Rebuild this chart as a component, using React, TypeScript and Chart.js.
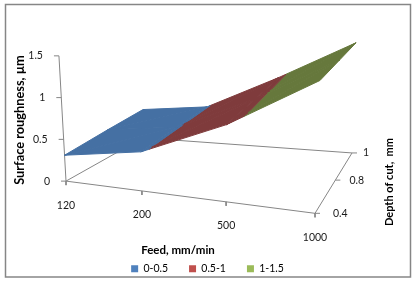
import React, { useEffect, useRef } from "react";
import { Chart, registerables } from "chart.js";

Chart.register(...registerables);

const feedLabels = ["120", "200", "500", "1000"];
const depthLabels = ["0.4", "0.8", "1"];
const zTicks = [0, 0.5, 1, 1.5];
const bandNames = ["0-0.5", "0.5-1", "1-1.5"];
const bandLimits = [[0, 0.5], [0.5, 1], [1, 1.5]];
const bandColors = ["#4570a3", "#7f3b3c", "#66783c"];
const legendColors = ["#4f81bd", "#c0504d", "#9bbb59"];
const roughness04 = [0.31, 0.46, 0.89, 1.5];
const roughness08 = [0.35, 0.47, 0.92, 1.5];
const roughness10 = [0.38, 0.48, 0.95, 1.5];
const rows = [roughness04, roughness08, roughness10];

const FONT = "Lato";
const PLOT_HEIGHT = 241;

// Box corners on the chart's scales, and the spacing of the categories along each floor edge
const P00 = [66, 180], P10 = [315, 212], P11 = [352, 152], P01 = [143, 137];
const Z00 = [-4.7, -83], Z10 = [3.3, -88], Z11 = [2.7, -73], Z01 = [0, -74];
const feedSpacing = [0, 0.305, 0.643, 1];
const depthSpacing = [0, 0.55, 1];

function along(stops: number[], t: number) {
  const n = Math.min(Math.floor(t), stops.length - 2);
  return stops[n] + (stops[n + 1] - stops[n]) * (t - n);
}
function project(i: number, j: number, z: number) {
  const u = along(feedSpacing, i);
  const v = along(depthSpacing, j);
  const mix = (a: number[], b: number[], c: number[], d: number[], k: number) =>
    (1 - u) * (1 - v) * a[k] + u * (1 - v) * b[k] + u * v * c[k] + (1 - u) * v * d[k];
  return {
    x: mix(P00, P10, P11, P01, 0) + mix(Z00, Z10, Z11, Z01, 0) * z,
    y: mix(P00, P10, P11, P01, 1) + mix(Z00, Z10, Z11, Z01, 1) * z,
  };
}

type V = [number, number, number];
function clip(poly: V[], z: number, keepAbove: boolean): V[] {
  const out: V[] = [];
  const inside = (p: V) => (keepAbove ? p[2] >= z : p[2] <= z);
  poly.forEach((p, n) => {
    const q = poly[(n + 1) % poly.length];
    if (inside(p)) out.push(p);
    if (inside(p) !== inside(q)) {
      const t = (z - p[2]) / (q[2] - p[2]);
      out.push([p[0] + (q[0] - p[0]) * t, p[1] + (q[1] - p[1]) * t, z]);
    }
  });
  return out;
}

function surfaceDatasets() {
  const sets: any[] = [];
  for (let j = 0; j < rows.length - 1; j++) {
    for (let i = 0; i < feedLabels.length - 1; i++) {
      const a: V = [i, j, rows[j][i]], b: V = [i + 1, j, rows[j][i + 1]];
      const c: V = [i + 1, j + 1, rows[j + 1][i + 1]], d: V = [i, j + 1, rows[j + 1][i]];
      [[a, b, c], [a, c, d]].forEach((tri) => {
        bandLimits.forEach(([lo, hi], k) => {
          const poly = clip(clip(tri as V[], lo, true), hi, false);
          if (poly.length < 3) return;
          const pts = poly.map((p) => project(p[0], p[1], p[2]));
          pts.push(pts[0]);
          sets.push({
            label: bandNames[k], data: pts, showLine: true, fill: "shape", tension: 0,
            pointRadius: 0, borderWidth: 1, borderColor: bandColors[k],
            backgroundColor: bandColors[k], borderJoinStyle: "round",
          });
        });
      });
    }
  }
  return sets;
}

function axisDatasets() {
  const gap = { x: NaN, y: NaN };
  const nf = feedLabels.length - 1, nd = depthLabels.length - 1;
  const pts: any[] = [
    project(0, 0, zTicks[3]), project(0, 0, 0), project(nf, 0, 0), project(nf, nd, 0),
    project(0, nd, 0), project(0, 0, 0), gap,
  ];
  zTicks.forEach((z) => {
    const p = project(0, 0, z);
    pts.push(p, { x: p.x - 5, y: p.y }, gap);
  });
  feedLabels.forEach((_, i) => {
    const p = project(i, 0, 0);
    pts.push(p, { x: p.x, y: p.y + 4 }, gap);
  });
  depthLabels.forEach((_, j) => {
    const p = project(nf, j, 0);
    pts.push(p, { x: p.x + 5, y: p.y }, gap);
  });
  return [{
    label: "axes", data: pts, showLine: true, spanGaps: false, tension: 0, pointRadius: 0,
    borderWidth: 1, borderColor: "#868686", fill: false,
  }];
}

const textPlugin = {
  id: "boxText",
  afterDraw(chart: any) {
    const { ctx, scales: { x, y } } = chart;
    const px = (p: { x: number; y: number }) => [x.getPixelForValue(p.x), y.getPixelForValue(p.y)];
    const put = (t: string, xx: number, yy: number, align: CanvasTextAlign) => {
      ctx.textAlign = align;
      ctx.fillText(t, xx, yy);
    };
    ctx.save();
    ctx.textBaseline = "middle";
    ctx.fillStyle = "#1a1a1a";
    ctx.font = `10.5px ${FONT}`;
    zTicks.forEach((z) => {
      const [a, b] = px(project(0, 0, z));
      put(String(z), a - 16, b, "right");
    });
    const nf = feedLabels.length - 1;
    feedLabels.forEach((t, i) => {
      const [a, b] = px(project(i, 0, 0));
      put(t, a, b + 24, "center");
    });
    depthLabels.forEach((t, j) => {
      const [a, b] = px(project(nf, j, 0));
      put(t, a + 18 - 7 * depthSpacing[j], b, "left");
    });
    ctx.fillStyle = "#000";
    ctx.font = `bold 11.5px ${FONT}`;
    put("Feed, mm/min", 178, 250, "center");
    ctx.save();
    ctx.translate(20, 120);
    ctx.rotate(-Math.PI / 2);
    ctx.font = `bold 12.8px ${FONT}`;
    put("Surface roughness, \u00b5m", 0, 0, "center");
    ctx.restore();
    ctx.save();
    ctx.translate(389, 182);
    ctx.rotate(-Math.PI / 2);
    ctx.font = `bold 11px ${FONT}`;
    put("Depth of cut,  mm", 0, 0, "center");
    ctx.restore();
    ctx.restore();
  },
};

const framePlugin = {
  id: "frame",
  beforeDraw(chart: any) {
    const { ctx } = chart;
    ctx.save();
    ctx.strokeStyle = "#868686";
    ctx.lineWidth = 1.5;
    ctx.strokeRect(5.5, 4.5, 405, 272.5);
    ctx.restore();
  },
};

export default function App() {
  const ref = useRef<HTMLCanvasElement>(null);
  useEffect(() => {
    const chart = new Chart(ref.current!, {
      type: "scatter",
      data: { datasets: [...surfaceDatasets(), ...axisDatasets()] },
      plugins: [textPlugin, framePlugin],
      options: {
        animation: false,
        responsive: false,
        layout: { padding: { bottom: 1 } },
        scales: {
          x: { type: "linear", min: 0, max: 415, display: false },
          y: { type: "linear", min: 0, max: PLOT_HEIGHT, reverse: true, display: false },
        },
        plugins: {
          title: { display: false },
          tooltip: { enabled: false },
          legend: {
            position: "bottom",
            labels: {
              boxWidth: 7, boxHeight: 7, padding: 21, color: "#1a1a1a",
              font: { family: FONT, size: 10.5 },
              generateLabels: () =>
                bandNames.map((text, k) => ({
                  text, fillStyle: legendColors[k], strokeStyle: legendColors[k], lineWidth: 0,
                  datasetIndex: k,
                })),
            },
          },
        },
      },
    });
    return () => chart.destroy();
  }, []);
  return (
    <div style={{ position: "fixed", left: 0, top: 0, width: 415, height: 285, background: "#fff" }}>
      <canvas ref={ref} width={415} height={285} style={{ display: "block" }} />
    </div>
  );
}
